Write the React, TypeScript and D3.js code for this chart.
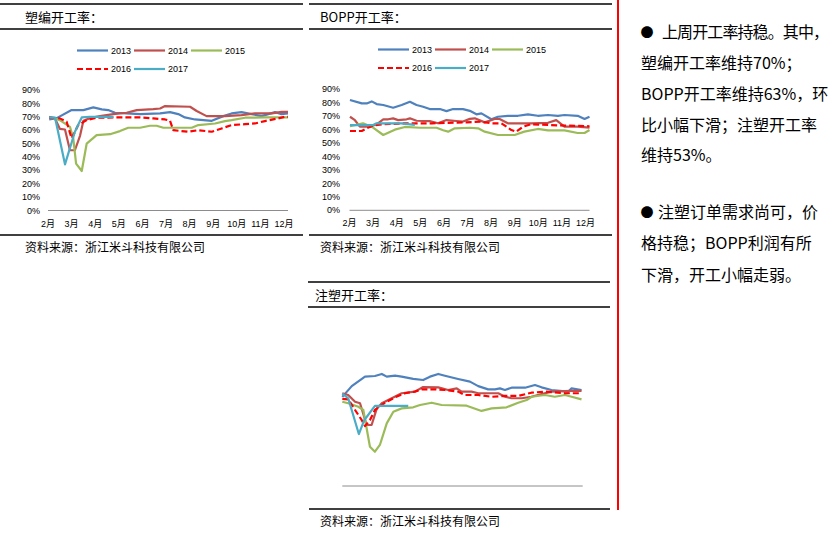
import React, { useEffect } from 'react';
import * as d3 from 'd3';

type Pt = [number, number];

// ---------- data ----------
const seriesNames = ['2013', '2014', '2015', '2016', '2017'];
const seriesColors = ['#4F81BD', '#C0504D', '#9BBB59', '#FF0000', '#4BACC6'];
const monthTicks = [2, 3, 4, 5, 6, 7, 8, 9, 10, 11, 12];
const pctTicks = [0, 10, 20, 30, 40, 50, 60, 70, 80, 90];

// 塑编开工率 (month, %)
const weaving2013: Pt[] = [[2.05,68],[2.37,69],[3.0,75],[3.5,75],[3.92,77],[4.28,75.5],[4.55,75],[4.84,73],[5.33,72.5],[5.9,72],[6.75,72.5],[7.17,73.5],[7.52,72],[7.8,69.5],[8.23,68],[8.94,67],[9.43,70.5],[9.78,72.5],[10.2,73.5],[10.63,72],[11.05,70.5],[11.62,73.5],[11.9,72],[12.17,72.5]];
const weaving2014: Pt[] = [[2.05,69.5],[2.3,68.5],[2.5,61],[2.72,60.5],[2.93,45],[3.14,45],[3.36,56],[3.5,67],[3.78,69],[4.2,70.5],[4.77,72],[5.33,73],[5.76,75],[6.46,75.7],[6.75,76.2],[6.96,78],[8.02,77.5],[8.3,74.3],[8.72,70.5],[9.5,70.5],[10.2,71.3],[10.77,72.5],[11.48,72.5],[11.9,73.7],[12.17,73.7]];
const weaving2015: Pt[] = [[2.05,70],[2.5,67.5],[2.93,62.5],[3.07,54],[3.19,35],[3.43,29.5],[3.64,50],[4.06,56.3],[4.63,57],[5.05,59.3],[5.4,61.8],[5.9,61.8],[6.32,63.3],[6.6,63.3],[6.89,61.8],[8.09,61.8],[8.37,63.8],[9.08,65],[9.5,66.8],[9.78,67.5],[10.35,69.3],[11.19,69.5],[12.17,69.5]];
const weaving2016: Pt[] = [[2.05,69.5],[2.5,68.8],[2.79,66.3],[3.0,54],[3.14,58.8],[3.28,63.8],[3.64,67.5],[4.06,69.3],[4.77,69.5],[5.9,69.5],[6.46,68.8],[6.96,68],[7.17,67],[7.31,60],[7.94,58.8],[8.37,60],[8.94,58.8],[9.36,61.3],[9.78,63.8],[10.35,64.5],[10.77,65],[11.19,66.8],[11.76,68.8],[12.04,70],[12.17,70]];
const weaving2017: Pt[] = [[2.05,69.5],[2.3,69.3],[2.72,34.5],[3.14,58.8],[3.43,69.5],[3.78,70],[4.77,70]];

// BOPP开工率
const bopp2013: Pt[] = [[2.02,82],[2.52,79.5],[2.73,79.5],[2.94,81],[3.15,79],[3.43,78.3],[3.85,76.3],[4.21,78.3],[4.56,80.7],[4.84,78.3],[5.12,77],[5.4,75.3],[5.83,75.3],[6.11,73.8],[6.39,75.3],[6.81,75.3],[7.1,74],[7.38,71.4],[7.59,72.1],[8.01,67.7],[8.29,69.6],[8.71,70.3],[9.14,70.3],[9.56,71.4],[9.98,70.3],[10.41,70.9],[10.83,70.3],[11.11,70.9],[11.67,70.3],[11.96,67.9],[12.17,69.6]];
const bopp2014: Pt[] = [[2.02,69.6],[2.23,67],[2.44,62.2],[2.87,62.2],[3.15,64],[3.43,67.7],[3.64,67.7],[3.85,68.4],[4.06,67.1],[4.42,67.7],[4.56,68.4],[4.84,66.6],[5.4,66.4],[5.75,64.7],[6.11,67.1],[6.53,66.4],[6.81,66],[7.1,68],[7.31,68.4],[7.73,65.4],[8.15,67.9],[8.36,67.9],[8.71,64.7],[9.7,64.7],[10.41,65.1],[10.76,67.1],[11.11,62.2],[11.67,62.2],[12.17,61.5]];
const bopp2015: Pt[] = [[2.02,62.5],[2.57,64.7],[2.94,62.2],[3.43,56],[3.92,60],[4.35,62],[4.98,61.4],[5.69,61.4],[5.97,59.5],[6.18,58.5],[6.46,61],[7.1,61.4],[7.45,61],[7.73,58.5],[8.29,56],[9.0,56],[9.41,58.5],[9.98,60.5],[10.41,59.5],[11.11,59.5],[11.67,57.5],[11.96,57.5],[12.17,59.7]];
const bopp2016: Pt[] = [[2.02,59],[2.52,59],[2.73,61],[3.0,63],[3.43,64],[4.42,64.7],[5.5,64.7],[6.88,65.4],[7.59,65.9],[8.01,64.7],[8.44,64.7],[8.86,59.7],[9.07,58.5],[9.35,62.2],[9.7,64],[10.55,63.4],[11.11,63],[12.17,62.5]];
const bopp2017: Pt[] = [[2.02,63.4],[3.0,63.4],[3.15,64.7],[4.2,64.7],[4.77,63.5]];

// 注塑开工率
const inj2013: Pt[] = [[2.0,66],[2.4,74],[2.96,81],[3.38,81.5],[3.67,83],[3.88,81],[4.23,81.7],[4.51,81],[5.0,79.3],[5.42,78.5],[5.71,81],[6.06,83],[6.34,81.7],[6.9,79.3],[7.4,77.3],[7.75,74],[8.17,71.6],[8.46,71.6],[8.67,72.3],[8.88,71.1],[9.16,72.8],[9.73,72.8],[10.15,74.8],[10.43,73.1],[10.85,71.1],[11.56,69.9],[11.7,72.3],[12.12,71.1]];
const inj2014: Pt[] = [[2.0,68.6],[2.25,67.4],[2.54,62.4],[2.75,61.3],[3.03,45.2],[3.24,45.2],[3.45,57],[3.67,61.3],[4.09,65],[4.51,68.7],[5.07,69.9],[5.42,73.3],[6.06,73.1],[6.48,71.1],[6.84,72.3],[7.05,69.9],[7.47,69.9],[7.75,68.7],[8.6,68.7],[8.88,66.1],[9.16,65],[9.59,65],[10.0,66.1],[10.43,68.1],[10.85,69.9],[11.7,70.4],[12.12,70.4]];
const inj2015: Pt[] = [[2.0,62.4],[2.25,61.3],[2.68,58.7],[2.89,56.3],[3.17,29.1],[3.38,25.4],[3.59,30.4],[3.88,46.4],[4.16,55],[4.51,57.5],[5.0,58.3],[5.29,60],[5.78,61.7],[6.2,60],[7.26,59.5],[7.89,55.6],[8.32,57.5],[8.95,58.3],[9.44,61.7],[9.8,63.7],[10.01,66.1],[10.57,67.4],[10.99,66.1],[11.42,67.4],[11.7,66.1],[12.12,64.2]];
const inj2016: Pt[] = [[2.0,64.5],[2.25,64.2],[2.54,56.3],[2.82,48.9],[2.96,44.4],[3.17,48.9],[3.38,56.3],[3.81,61.7],[4.23,65.7],[4.65,68.7],[5.07,69.9],[5.36,71.6],[5.92,71.6],[6.34,71.1],[6.9,69.9],[7.19,67.4],[7.75,67.4],[8.32,66.1],[8.88,66.7],[9.44,66.7],[10.0,69.1],[10.57,69.9],[11.42,68.7],[12.12,68.7]];
const inj2017: Pt[] = [[2.0,68.5],[2.25,65],[2.7,38.5],[2.92,48.5],[3.38,59.3],[4.79,59.3]];

const titles = ['塑编开工率：', 'BOPP开工率：', '注塑开工率：'];
const sourceText = '资料来源：浙江米斗科技有限公司';
const noteLines1 = ['上周开工率持稳。其中，', '塑编开工率维持70%；', 'BOPP开工率维持63%，环', '比小幅下滑；注塑开工率', '维持53%。'];
const noteLines2 = ['注塑订单需求尚可，价', '格持稳；BOPP利润有所', '下滑，开工小幅走弱。'];

const CJK = '"Noto Sans CJK SC", "Noto Sans", sans-serif';
const LAT = '"Liberation Sans", Arial, "Noto Sans CJK SC", sans-serif';

type ChartProps = {
  series: Pt[][];
  xr: [number, number];
  yr: [number, number];
  yMax: number;
  axisLabels: boolean;
  labelX?: number;
  legendX?: number;
  legendY?: number;
};

function Chart({ series, xr, yr, yMax, axisLabels, labelX = 0, legendX = 0, legendY = 0 }: ChartProps) {
  const x = d3.scaleLinear().domain([2, 12.17]).range(xr);
  const y = d3.scaleLinear().domain([0, yMax]).range(yr);
  const line = d3.line<Pt>().x((d) => x(d[0])).y((d) => y(d[1]));
  const legendStep = 57;
  return (
    <g>
      <line x1={xr[0]} x2={xr[1]} y1={y(0)} y2={y(0)} stroke="#8C8C8C" strokeWidth={1} />
      {axisLabels &&
        pctTicks.map((t) => (
          <text key={'y' + t} x={labelX} y={y(t)} dy="0.35em" textAnchor="end" fontSize={9} fontFamily={LAT} fill="#000">
            {t + '%'}
          </text>
        ))}
      {axisLabels &&
        monthTicks.map((m) => (
          <text key={'m' + m} x={x(m)} y={y(0) + 13} dy="0.35em" textAnchor="middle" fontSize={9} fontFamily={LAT} fill="#000">
            {m + '月'}
          </text>
        ))}
      {axisLabels &&
        seriesNames.map((n, i) => {
          const lx = legendX + (i % 3) * legendStep;
          const ly = legendY + Math.floor(i / 3) * 18.5;
          return (
            <g key={'lg' + n}>
              <line x1={lx} x2={lx + 31} y1={ly} y2={ly} stroke={seriesColors[i]} strokeWidth={2.2}
                strokeDasharray={i === 3 ? '6,3' : undefined} />
              <text x={lx + 34} y={ly} dy="0.35em" fontSize={9} fontFamily={LAT} fill="#000">{n}</text>
            </g>
          );
        })}
      {series.map((s, i) => (
        <path key={'s' + i} d={line(s) || ''} fill="none" stroke={seriesColors[i]} strokeWidth={2.2}
          strokeLinejoin="round" strokeDasharray={i === 3 ? '6,3' : undefined} />
      ))}
    </g>
  );
}

function Panel({ x1, x2, top, title, titleX }: { x1: number; x2: number; top: number; title: string; titleX: number }) {
  return (
    <g>
      <line x1={x1} x2={x2} y1={top} y2={top} stroke="#000" strokeWidth={1.3} />
      <line x1={x1} x2={x2} y1={top + 25} y2={top + 25} stroke="#000" strokeWidth={1.3} />
      <text x={titleX} y={top + 13} dy="0.35em" fontSize={13} fontFamily={CJK} fill="#000">{title}</text>
    </g>
  );
}

function Source({ x1, x2, y, tx }: { x1: number; x2: number; y: number; tx: number }) {
  return (
    <g>
      <line x1={x1} x2={x2} y1={y} y2={y} stroke="#000" strokeWidth={1.3} />
      <text x={tx} y={y + 13} dy="0.35em" fontSize={12} fontFamily={CJK} fill="#000">{sourceText}</text>
    </g>
  );
}

export default function App() {
  useEffect(() => {
    document.body.style.margin = '0';
  }, []);
  const lineYs1 = [32, 63, 94, 125, 155];
  const lineYs2 = [212, 243, 275];
  return (
    <svg width={832} height={537} style={{ display: 'block', background: '#fff' }}>
      <rect width={832} height={537} fill="#fff" />
      <Panel x1={0} x2={303} top={4} title={titles[0]} titleX={25} />
      <Panel x1={309} x2={612} top={4} title={titles[1]} titleX={320} />
      <Panel x1={308} x2={610} top={282} title={titles[2]} titleX={315} />
      <Source x1={0} x2={303} y={235} tx={25} />
      <Source x1={309} x2={612} y={235} tx={320} />
      <Source x1={309} x2={610} y={509} tx={320} />

      <Chart series={[weaving2013, weaving2014, weaving2015, weaving2016, weaving2017]}
        xr={[48, 288]} yr={[210.5, 90]} yMax={90} axisLabels labelX={40} legendX={77} legendY={50.5} />
      <Chart series={[bopp2013, bopp2014, bopp2015, bopp2016, bopp2017]}
        xr={[349.5, 589.5]} yr={[210.3, 89.3]} yMax={90} axisLabels labelX={340} legendX={378} legendY={49.5} />
      <Chart series={[inj2013, inj2014, inj2015, inj2016, inj2017]}
        xr={[342.3, 582.7]} yr={[486, 351]} yMax={100} axisLabels={false} />

      <line x1={618} x2={618} y1={0} y2={510} stroke="#FF0000" strokeWidth={2} />
      <text x={647} y={lineYs1[0]} dy="0.35em" textAnchor="middle" fontSize={13} fontFamily={CJK} fill="#000">●</text>
      {noteLines1.map((t, i) => (
        <text key={'n1' + i} x={i === 0 ? 662 : 641} y={lineYs1[i]} dy="0.35em" fontSize={16} fontFamily={CJK} fill="#000"
          letterSpacing={i === 0 ? -0.9 : undefined}>{t}</text>
      ))}
      <text x={647} y={lineYs2[0]} dy="0.35em" textAnchor="middle" fontSize={13} fontFamily={CJK} fill="#000">●</text>
      {noteLines2.map((t, i) => (
        <text key={'n2' + i} x={i === 0 ? 658 : 641} y={lineYs2[i]} dy="0.35em" fontSize={16} fontFamily={CJK} fill="#000">{t}</text>
      ))}
    </svg>
  );
}
